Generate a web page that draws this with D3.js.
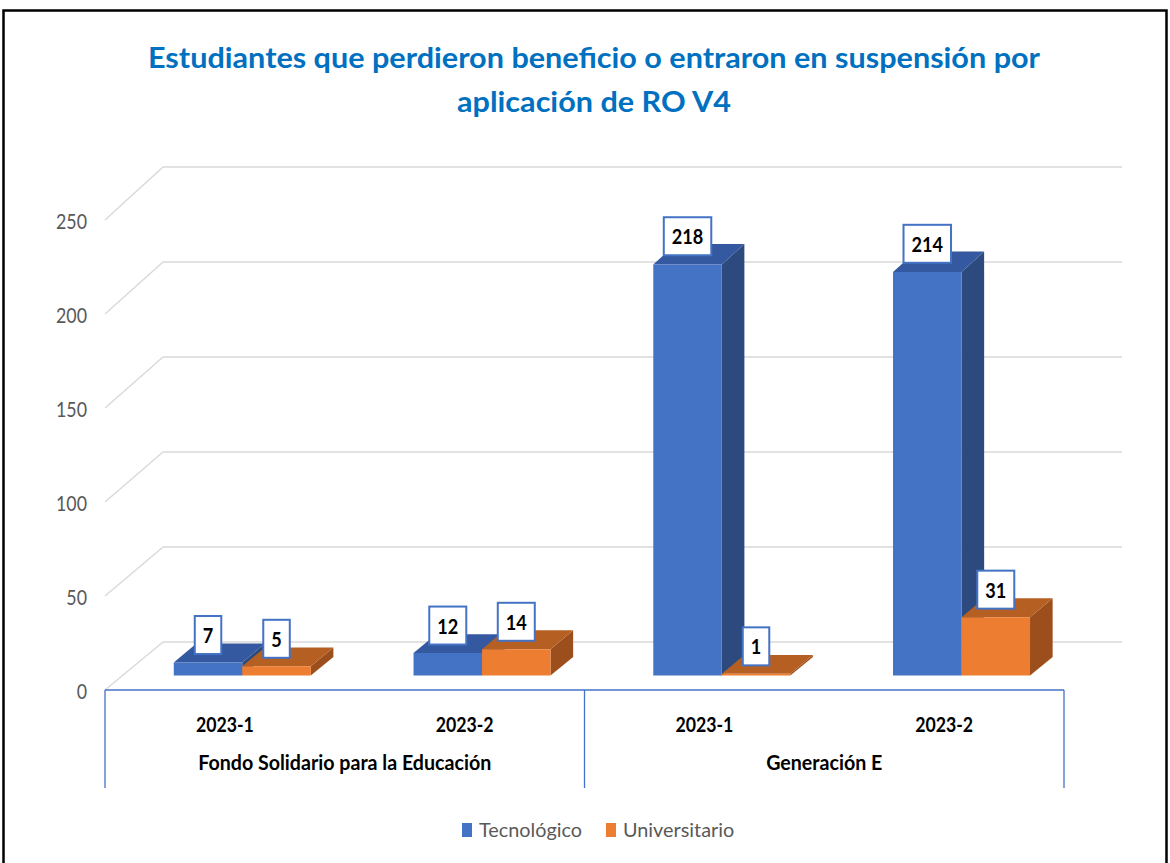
<!DOCTYPE html>
<html lang="es">
<head>
    <meta charset="UTF-8">
    <title>Estudiantes que perdieron beneficio</title>
    <script src="https://d3js.org/d3.v7.min.js"></script>
    <style>
        body { margin: 0; background: #fff; }
        text { font-family: Lato, "Open Sans", sans-serif; }
        .grid line { stroke: #d9d9d9; stroke-width: 1.4px; }
    </style>
</head>
<body>
<script>
    // data
    var groups = ["Fondo Solidario para la Educación", "Generación E"];
    var periods = ["2023-1", "2023-2"];
    var series = ["Tecnológico", "Universitario"];
    var tecnologico = [7, 12, 218, 214];
    var universitario = [5, 14, 1, 31];
    var yTicks = [0, 50, 100, 150, 200, 250];
    var titleLines = ["Estudiantes que perdieron beneficio o entraron en suspensión por",
                      "aplicación de RO V4"];

    var width = 1170, height = 863;
    var DX = 58;                       // depth shift to the left
    function depthY(v) { return 48 + v * 0.02; }   // depth shift downwards
    var zBack = 0.31, zFront = 0.70;   // bar depth inside the floor

    var colors = {
        "Tecnológico":   {front: "#4472c4", top: "#3459a0", side: "#2c4a7e"},
        "Universitario": {front: "#ed7d31", top: "#b65f22", side: "#9c4f1c"}
    };

    var svg = d3.select("body").append("svg")
        .attr("width", width)
        .attr("height", height);

    // measuring helper, lato is squeezed to get the narrow calibri look
    var probe = svg.append("g").attr("transform", "translate(-2000,-2000)").append("text");
    function measure(str, size, weight) {
        probe.style("font-size", size + "px").style("font-weight", weight).text(str);
        return probe.node().getComputedTextLength();
    }
    function squeeze(sel, k) {
        sel.each(function () {
            var w = this.getComputedTextLength();
            d3.select(this).attr("textLength", w * k).attr("lengthAdjust", "spacingAndGlyphs");
        });
    }

    var keys = [];
    groups.forEach(function (g) {
        periods.forEach(function (p) { keys.push(g + "|" + p); });
    });

    var x0 = d3.scaleBand().domain(keys).range([163, 1122]);
    var x1 = d3.scaleBand().domain(series).range([0, x0.bandwidth()]).paddingOuter(0.75);
    var y = d3.scaleLinear().domain([0, 250]).range([642, 167]);

    function proj(xw, v, z) {
        return [xw - z * DX, y(v) + z * depthY(v)];
    }

    svg.append("rect")
        .attr("x", 3.5).attr("y", 10.5)
        .attr("width", 1163).attr("height", 880)
        .attr("fill", "none").attr("stroke", "#000").attr("stroke-width", 2.5);

    // title
    var kTitle = 892 / measure(titleLines[0], 28, "bold");
    svg.append("g").selectAll("text").data(titleLines).enter().append("text")
        .attr("text-anchor", "middle")
        .attr("x", 594)
        .attr("y", function (d, i) { return 68 + i * 44; })
        .attr("fill", "#0070c0")
        .style("font-size", "28px")
        .style("font-weight", "bold")
        .text(function (d) { return d; })
        .call(squeeze, kTitle);

    // back wall + side wall gridlines
    var grid = svg.append("g").attr("class", "grid");
    grid.selectAll("line.back").data(yTicks).enter().append("line")
        .attr("class", "back")
        .attr("x1", 163).attr("x2", 1122)
        .attr("y1", function (d) { return y(d); })
        .attr("y2", function (d) { return y(d); });
    grid.selectAll("line.side").data(yTicks).enter().append("line")
        .attr("class", "side")
        .attr("x1", 163).attr("y1", function (d) { return y(d); })
        .attr("x2", function (d) { return proj(163, d, 1)[0]; })
        .attr("y2", function (d) { return proj(163, d, 1)[1]; });

    // y labels on the front edge
    var kY = 31 / measure("250", 22, "normal");
    svg.append("g").selectAll("text").data(yTicks).enter().append("text")
        .attr("text-anchor", "end")
        .attr("x", 87)
        .attr("y", function (d) { return proj(163, d, 1)[1] + 9; })
        .attr("fill", "#595959")
        .style("font-size", "22px")
        .text(function (d) { return d; })
        .call(squeeze, kY);

    // bars
    var bars = [];
    keys.forEach(function (k, i) {
        series.forEach(function (s) {
            var v = s === "Tecnológico" ? tecnologico[i] : universitario[i];
            bars.push({key: k, series: s, value: v});
        });
    });

    function pts(list) {
        return list.map(function (p) { return proj(p[0], p[1], p[2]).join(","); }).join(" ");
    }

    var barG = svg.append("g").selectAll("g").data(bars).enter().append("g");
    barG.each(function (d) {
        var g = d3.select(this);
        var xl = x0(d.key) + x1(d.series), xr = xl + x1.bandwidth(), v = d.value;
        g.append("polygon").attr("fill", colors[d.series].side)
            .attr("points", pts([[xr, 0, zFront], [xr, 0, zBack], [xr, v, zBack], [xr, v, zFront]]));
        g.append("polygon").attr("fill", colors[d.series].top)
            .attr("points", pts([[xl, v, zFront], [xr, v, zFront], [xr, v, zBack], [xl, v, zBack]]));
        g.append("polygon").attr("fill", colors[d.series].front)
            .attr("points", pts([[xl, 0, zFront], [xr, 0, zFront], [xr, v, zFront], [xl, v, zFront]]));
    });

    // data labels
    var kL = 21 / measure("31", 20, "bold");
    var lbl = svg.append("g").selectAll("g").data(bars).enter().append("g");
    lbl.each(function (d) {
        var g = d3.select(this);
        var xl = x0(d.key) + x1(d.series), xr = xl + x1.bandwidth();
        var cx = proj((xl + xr) / 2, d.value, zFront)[0];
        var topY = (proj(xl, d.value, zFront)[1] + proj(xl, d.value, zBack)[1]) / 2 + 2;
        var rect = g.append("rect");
        var t = g.append("text")
            .attr("text-anchor", "middle")
            .attr("x", cx).attr("y", topY - 12)
            .attr("fill", "#000")
            .style("font-size", "20px")
            .style("font-weight", "bold")
            .text(d.value);
        var w = t.node().getComputedTextLength() * kL;
        t.attr("textLength", w).attr("lengthAdjust", "spacingAndGlyphs");
        rect.attr("x", cx - w / 2 - 8).attr("y", topY - 39)
            .attr("width", w + 16).attr("height", 38)
            .attr("fill", "#fff").attr("stroke", "#4472c4").attr("stroke-width", 2);
    });

    // category axis (front edge of floor)
    var axisY = proj(163, 0, 1)[1];
    var axis = svg.append("g").attr("stroke", "#4472c4").attr("stroke-width", 1.3);
    axis.append("line").attr("x1", proj(163, 0, 1)[0]).attr("x2", proj(1122, 0, 1)[0])
        .attr("y1", axisY).attr("y2", axisY);
    var bounds = [x0(keys[0]), x0(keys[2]), 1122];
    axis.selectAll("line.sep").data(bounds).enter().append("line")
        .attr("class", "sep")
        .attr("x1", function (d) { return proj(d, 0, 1)[0]; })
        .attr("x2", function (d) { return proj(d, 0, 1)[0]; })
        .attr("y1", axisY).attr("y2", 788);

    var kC = 58 / measure("2023-1", 20, "bold");
    svg.append("g").selectAll("text").data(keys).enter().append("text")
        .attr("text-anchor", "middle")
        .attr("x", function (d) { return proj(x0(d) + x0.bandwidth() / 2, 0, 1)[0]; })
        .attr("y", 732)
        .style("font-size", "20px")
        .style("font-weight", "bold")
        .text(function (d) { return d.split("|")[1]; })
        .call(squeeze, kC);

    var kG = 293 / measure(groups[0], 20, "bold");
    svg.append("g").selectAll("text").data(groups).enter().append("text")
        .attr("text-anchor", "middle")
        .attr("x", function (d, i) {
            var a = proj(bounds[i], 0, 1)[0], b = proj(bounds[i + 1], 0, 1)[0];
            return (a + b) / 2;
        })
        .attr("y", 770)
        .style("font-size", "20px")
        .style("font-weight", "bold")
        .text(function (d) { return d; })
        .call(squeeze, kG);

    // legend
    var kLeg = 103 / measure("Tecnológico", 20, "normal");
    var legend = svg.append("g");
    var legX = [462, 606];
    series.forEach(function (s, i) {
        legend.append("rect")
            .attr("x", legX[i]).attr("y", 823)
            .attr("width", 10).attr("height", 14)
            .attr("fill", colors[s].front);
        legend.append("text")
            .attr("x", legX[i] + 17).attr("y", 837)
            .attr("fill", "#595959")
            .style("font-size", "20px")
            .text(s)
            .call(squeeze, kLeg);
    });

    probe.remove();
</script>
</body>
</html>
